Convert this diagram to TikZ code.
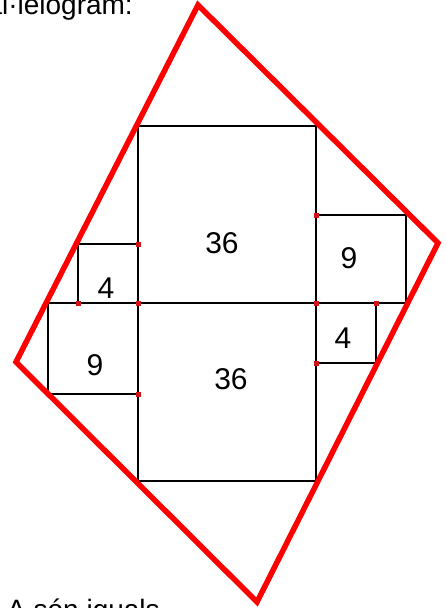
\documentclass[tikz,border=0pt]{standalone}
\usepackage{fontspec}
\setmainfont{Liberation Sans}
\begin{document}
\begin{tikzpicture}[x=1pt,y=-1pt,
  redline/.style={draw=red,line width=5.5pt,line join=miter},
  blackline/.style={draw=black,line width=2pt},
  num/.style={font=\fontsize{30}{34}\selectfont,inner sep=0pt},
  bigtext/.style={font=\fontsize{28}{32}\selectfont,inner sep=0pt},
  dot/.style={fill={rgb,255:red,210;green,20;blue,20},minimum size=5pt,inner sep=0pt,draw=none,rectangle}]
\useasboundingbox (0,0) rectangle (446,608);
% corners of the parallelogram
\coordinate (T) at (198,5);
\coordinate (R) at (438,243);
\coordinate (B) at (257,602);
\coordinate (L) at (16,362);
% texts (cut by the page edge)
\begin{scope}
\clip (0,0) rectangle (446,608);
\node[bigtext,anchor=base east] (title) at (133,14) {Paral·lelogram:};
\node[bigtext,anchor=base west] (foot) at (7,619) {A són iguals};
\end{scope}
% black squares and rectangles
\draw[blackline] (138,126) rectangle (316,481);
\draw[blackline] (48,303) -- (406,303);
\draw[blackline] (78,244) rectangle (138,303);
\draw[blackline] (48,303) rectangle (138,394);
\draw[blackline] (316,215) rectangle (406,303);
\draw[blackline] (316,303) rectangle (376,363);
% red outline
\draw[redline] (T) -- (R) -- (B) -- (L) -- cycle;
% red markers
\node[dot] (d1) at (138,244) {};
\node[dot] (d2) at (138,303) {};
\node[dot] (d3) at (78,303) {};
\node[dot] (d4) at (138,394) {};
\node[dot] (d5) at (316,215) {};
\node[dot] (d6) at (316,303) {};
\node[dot] (d7) at (376,303) {};
\node[dot] (d8) at (316,363) {};
% labels
\node[num] (a1) at (222,243) {36};
\node[num] (a2) at (231,379) {36};
\node[num] (a3) at (349,258) {9};
\node[num] (a4) at (106,288) {4};
\node[num] (a5) at (95,365) {9};
\node[num] (a6) at (343,338) {4};
\end{tikzpicture}
\end{document}
